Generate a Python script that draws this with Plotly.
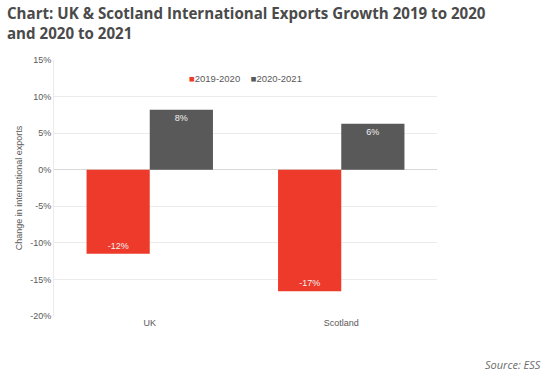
import plotly.graph_objects as go

categories = ["UK", "Scotland"]
series_names = ["2019-2020", "2020-2021"]
values_2019_2020 = [-11.5, -16.6]
values_2020_2021 = [8.2, 6.3]
labels_2019_2020 = ["-12%", "-17%"]
labels_2020_2021 = ["8%", "6%"]
y_ticks = [15, 10, 5, 0, -5, -10, -15, -20]
y_tick_labels = ["15%", "10%", "5%", "0%", "-5%", "-10%", "-15%", "-20%"]

red = "#EE3A2B"
grey = "#595959"

L, T, PW, PH = 54, 60, 383, 256

fig = go.Figure()
fig.add_trace(go.Bar(
    x=categories, y=values_2019_2020, name=series_names[0],
    marker=dict(color=red, line=dict(width=0)),
    text=labels_2019_2020, textposition="inside", insidetextanchor="end",
    textfont=dict(color="#f2f2f2", size=9, family="Liberation Sans"),
    showlegend=False,
))
fig.add_trace(go.Bar(
    x=categories, y=values_2020_2021, name=series_names[1],
    marker=dict(color=grey, line=dict(width=0)),
    text=labels_2020_2021, textposition="inside", insidetextanchor="end",
    textfont=dict(color="#f2f2f2", size=9, family="Liberation Sans"),
    showlegend=False,
))

legend_text = (f"<span style='color:{red}'>■</span>{series_names[0]}"
               f"    <span style='color:{grey}'>■</span>{series_names[1]}")

fig.update_layout(
    width=550, height=378,
    margin=dict(l=L, r=550 - L - PW, t=T, b=378 - T - PH, autoexpand=False),
    paper_bgcolor="white", plot_bgcolor="white",
    barmode="group", bargap=0.34, bargroupgap=0,
    font=dict(family="Liberation Sans", color="#595959", size=9),
    showlegend=False,
    xaxis=dict(showgrid=False, showline=False, ticks="", tickfont=dict(size=9, color="#595959"),
               range=[-0.5, 1.5], automargin=False),
    yaxis=dict(range=[-20, 15], tickvals=y_ticks, ticktext=y_tick_labels,
               showgrid=True, gridcolor="#ebebeb", gridwidth=1,
               zeroline=True, zerolinecolor="#d9d9d9", zerolinewidth=1,
               showline=True, linecolor="#ebebeb", linewidth=1,
               ticks="", ticklen=0, tickfont=dict(size=9, color="#595959"), automargin=False,
               title=dict(text="Change in international exports", font=dict(size=9, color="#595959"), standoff=6)),
    annotations=[
        dict(text="<b>Chart: UK &amp; Scotland International Exports Growth 2019 to 2020<br>and 2020 to 2021</b>",
             xref="paper", yref="paper", x=(5 - L) / PW, y=1 + (T - 1) / PH, xanchor="left", yanchor="top",
             showarrow=False, align="left",
             font=dict(family="Open Sans", size=15.1, color="#4a4a4a")),
        dict(text=legend_text, xref="paper", yref="paper", x=(245 - L) / PW, y=1 - (78 - T) / PH,
             xanchor="center", yanchor="middle", showarrow=False,
             font=dict(size=9.5, color="#595959")),
        dict(text="<i>Source: ESS</i>", xref="paper", yref="paper", x=(543 - L) / PW, y=-(374 - T - PH) / PH,
             xanchor="right", yanchor="bottom",
             showarrow=False, font=dict(family="Open Sans", size=11, color="#6b6b6b")),
    ],
)
fig.write_html("out.html", config={"displayModeBar": False},
               post_script="document.body.style.margin='0';document.body.style.overflow='hidden';")
